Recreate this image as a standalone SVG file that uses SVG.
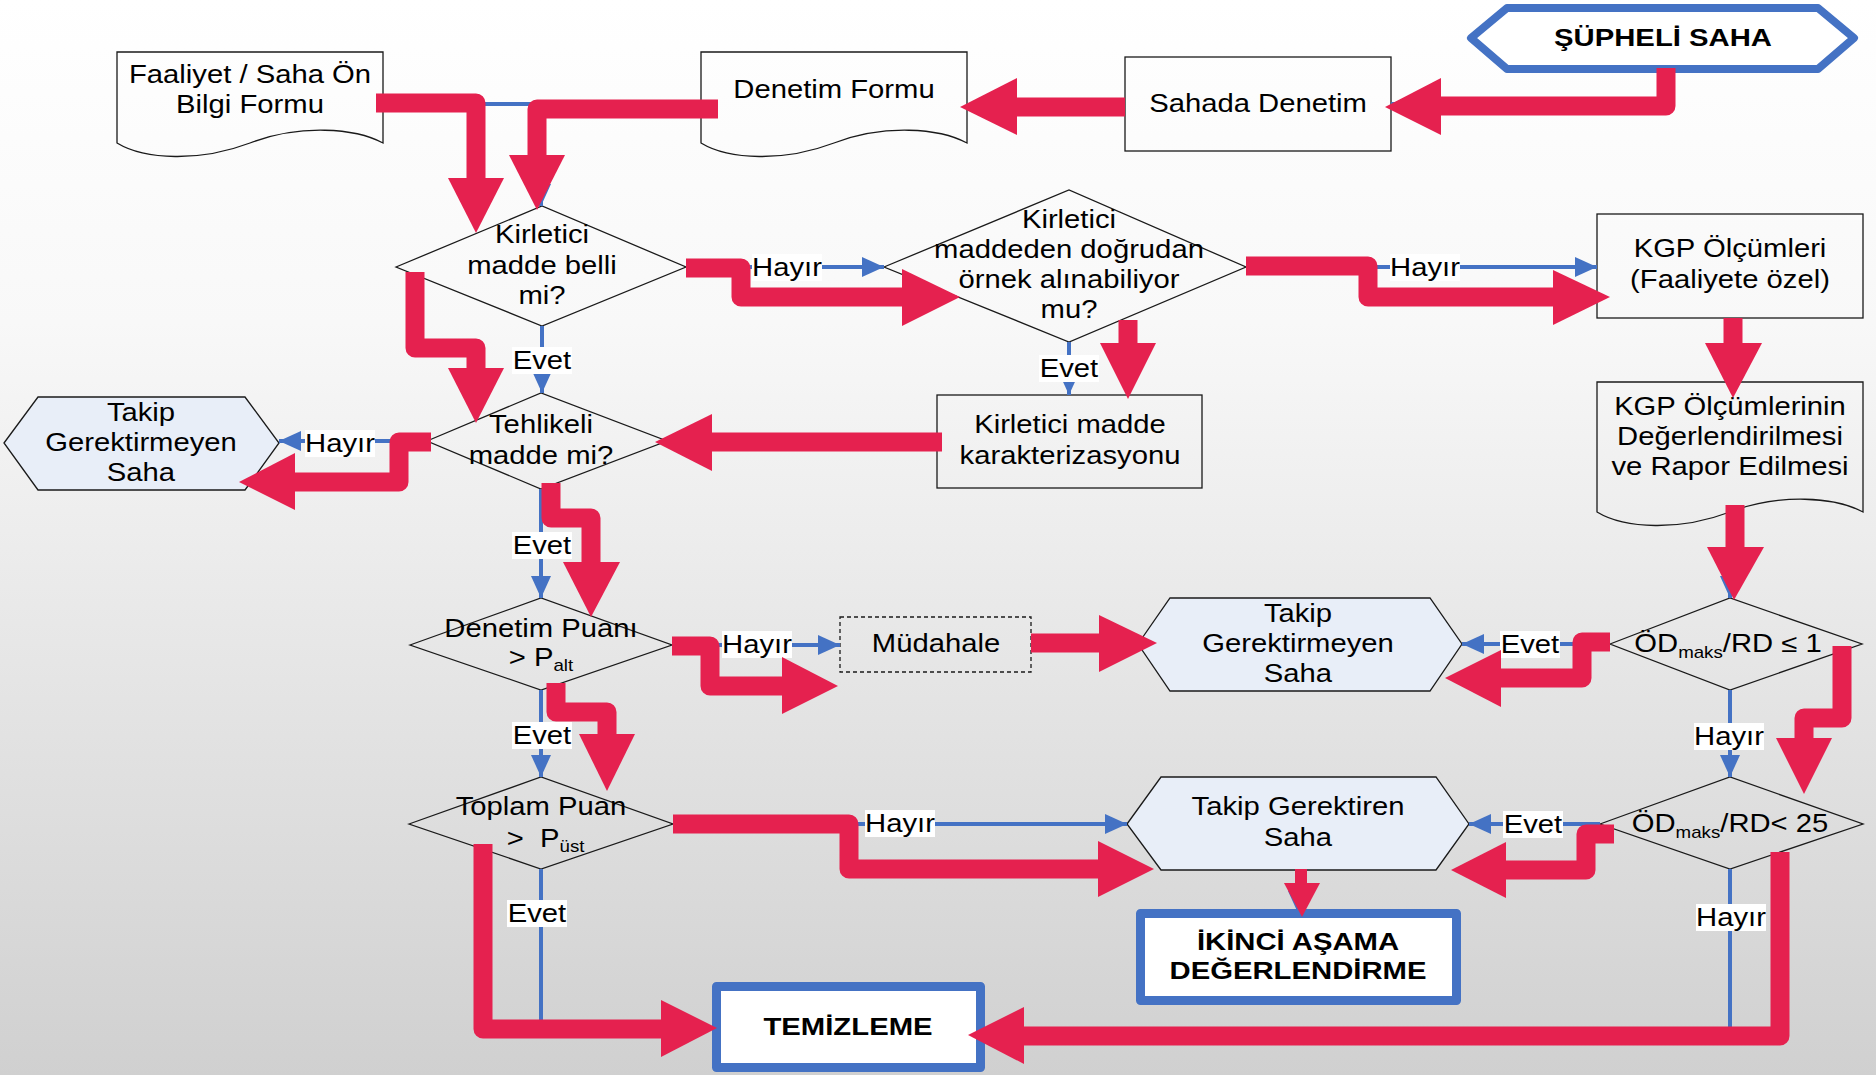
<svg xmlns="http://www.w3.org/2000/svg" width="1876" height="1075" viewBox="0 0 1876 1075">
<defs>
<linearGradient id="bg" x1="0" y1="0" x2="0" y2="1">
<stop offset="0" stop-color="#ffffff"/>
<stop offset="0.3" stop-color="#f8f8f8"/>
<stop offset="1" stop-color="#d0d0d0"/>
</linearGradient>
<marker id="ba" markerUnits="userSpaceOnUse" viewBox="0 0 22 20" refX="22" refY="10" markerWidth="22" markerHeight="20" orient="auto">
<path d="M0,0 L22,10 L0,20 Z" fill="#4472c4"/>
</marker>
<style>
.n{fill:none;stroke:#1a1a1a;stroke-width:1.3}
.hx{fill:#e8eef8;stroke:#1a1a1a;stroke-width:1.3}
.bx{fill:#ffffff;stroke:#4472c4;stroke-width:9;stroke-linejoin:round}
.t{font-family:"Liberation Sans",Arial,sans-serif;font-size:25px;text-anchor:middle;fill:#000}
.b{font-weight:bold;font-size:24px}
.s{font-size:16px}
.bl{fill:none;stroke:#4472c4;stroke-width:4;marker-end:url(#ba)}
.bn{fill:none;stroke:#4472c4;stroke-width:4}
.lb{fill:#ffffff}
.r{fill:none;stroke:#e5214f;stroke-width:19;stroke-linejoin:round}
.rh{fill:#e5214f}
</style>
</defs>
<rect x="0" y="0" width="1876" height="1075" fill="url(#bg)"/>

<g id="nodes">
<g id="faaliyet">
<path class="n" d="M117,52 H383 V143 C355,128 300,124 250,143 C200,162 145,160 117,143 Z"/>
<text class="t" transform="translate(250,0) scale(1.17,1)"><tspan x="0" y="83">Faaliyet / Saha Ön</tspan><tspan x="0" y="113">Bilgi Formu</tspan></text>
</g>
<g id="denetim-formu">
<path class="n" d="M701,52 H967 V143 C939,128 884,124 834,143 C784,162 729,160 701,143 Z"/>
<text class="t" transform="translate(834,0) scale(1.17,1)"><tspan x="0" y="98">Denetim Formu</tspan></text>
</g>
<g id="sahada-denetim">
<rect class="n" x="1125" y="57" width="266" height="94"/>
<text class="t" transform="translate(1258,0) scale(1.17,1)"><tspan x="0" y="112">Sahada Denetim</tspan></text>
</g>
<g id="supheli-saha">
<polygon points="1471,38 1507,8 1818,8 1854,38 1818,69 1507,69" fill="#ffffff" stroke="#4472c4" stroke-width="8" stroke-linejoin="round"/>
<text class="t b" transform="translate(1663,0) scale(1.22,1)"><tspan x="0" y="46">ŞÜPHELİ SAHA</tspan></text>
</g>
<g id="kirletici-belli">
<polygon class="n" points="396,267 542,206 686,267 542,326"/>
<text class="t" transform="translate(542,0) scale(1.17,1)"><tspan x="0" y="243">Kirletici</tspan><tspan x="0" y="274">madde belli</tspan><tspan x="0" y="304">mi?</tspan></text>
</g>
<g id="ornek-alinabiliyor">
<polygon class="n" points="884,267 1069,190 1246,267 1069,342"/>
<text class="t" transform="translate(1069,0) scale(1.17,1)"><tspan x="0" y="228">Kirletici</tspan><tspan x="0" y="258">maddeden doğrudan</tspan><tspan x="0" y="288">örnek alınabiliyor</tspan><tspan x="0" y="318">mu?</tspan></text>
</g>
<g id="kgp-olcumleri">
<rect class="n" x="1597" y="214" width="266" height="104"/>
<text class="t" transform="translate(1730,0) scale(1.17,1)"><tspan x="0" y="257">KGP Ölçümleri</tspan><tspan x="0" y="288">(Faaliyete özel)</tspan></text>
</g>
<g id="takip-gerektirmeyen-1">
<polygon class="hx" points="4,443 38,397 245,397 279,443 245,490 38,490"/>
<text class="t" transform="translate(141,0) scale(1.17,1)"><tspan x="0" y="421">Takip</tspan><tspan x="0" y="451">Gerektirmeyen</tspan><tspan x="0" y="481">Saha</tspan></text>
</g>
<g id="tehlikeli">
<polygon class="n" points="427,441 541,393 667,441 541,489"/>
<text class="t" transform="translate(541,0) scale(1.17,1)"><tspan x="0" y="433">Tehlikeli</tspan><tspan x="0" y="464">madde mi?</tspan></text>
</g>
<g id="karakterizasyon">
<rect class="n" x="937" y="395" width="265" height="93"/>
<text class="t" transform="translate(1070,0) scale(1.17,1)"><tspan x="0" y="433">Kirletici madde</tspan><tspan x="0" y="464">karakterizasyonu</tspan></text>
</g>
<g id="kgp-degerlendirme">
<path class="n" d="M1597,382 H1863 V512 C1835,497 1780,493 1730,512 C1680,531 1625,529 1597,512 Z"/>
<text class="t" transform="translate(1730,0) scale(1.17,1)"><tspan x="0" y="415">KGP Ölçümlerinin</tspan><tspan x="0" y="445">Değerlendirilmesi</tspan><tspan x="0" y="475">ve Rapor Edilmesi</tspan></text>
</g>
<g id="denetim-puani">
<polygon class="n" points="410,645 541,598 672,645 541,690"/>
<text class="t" transform="translate(541,0) scale(1.17,1)"><tspan x="0" y="637">Denetim Puanı</tspan><tspan x="0" y="666">&gt; P<tspan class="s" dy="5">alt</tspan></tspan></text>
</g>
<g id="mudahale">
<rect x="840" y="617" width="191" height="55" fill="none" stroke="#1a1a1a" stroke-width="1.3" stroke-dasharray="4,3"/>
<text class="t" transform="translate(936,0) scale(1.17,1)"><tspan x="0" y="652">Müdahale</tspan></text>
</g>
<g id="takip-gerektirmeyen-2">
<polygon class="hx" points="1138,644 1170,598 1430,598 1462,644 1430,691 1170,691"/>
<text class="t" transform="translate(1298,0) scale(1.17,1)"><tspan x="0" y="622">Takip</tspan><tspan x="0" y="652">Gerektirmeyen</tspan><tspan x="0" y="682">Saha</tspan></text>
</g>
<g id="od-rd-1">
<polygon class="n" points="1610,644 1730,598 1862,644 1730,690"/>
<text class="t" transform="translate(1728,0) scale(1.17,1)"><tspan x="0" y="652">ÖD<tspan class="s" dy="6">maks</tspan><tspan dy="-6">/RD ≤ 1</tspan></tspan></text>
</g>
<g id="toplam-puan">
<polygon class="n" points="409,824 541,777 673,824 541,869"/>
<text class="t" transform="translate(541,0) scale(1.17,1)"><tspan x="0" y="815">Toplam Puan</tspan><tspan x="4" y="847">&gt;&#160; P<tspan class="s" dy="5">üst</tspan></tspan></text>
</g>
<g id="takip-gerektiren">
<polygon class="hx" points="1127,824 1161,777 1436,777 1469,824 1436,870 1161,870"/>
<text class="t" transform="translate(1298,0) scale(1.17,1)"><tspan x="0" y="815">Takip Gerektiren</tspan><tspan x="0" y="846">Saha</tspan></text>
</g>
<g id="od-rd-25">
<polygon class="n" points="1600,824 1730,777 1863,824 1730,869"/>
<text class="t" transform="translate(1730,0) scale(1.17,1)"><tspan x="0" y="832">ÖD<tspan class="s" dy="6">maks</tspan><tspan dy="-6">/RD&lt; 25</tspan></tspan></text>
</g>
<g id="ikinci-asama">
<rect class="bx" x="1140.5" y="913.5" width="316" height="87"/>
<text class="t b" transform="translate(1298,0) scale(1.22,1)"><tspan x="0" y="950">İKİNCİ AŞAMA</tspan><tspan x="0" y="979">DEĞERLENDİRME</tspan></text>
</g>
<g id="temizleme">
<rect class="bx" x="716.5" y="986.5" width="264" height="81"/>
<text class="t b" transform="translate(848,0) scale(1.22,1)"><tspan x="0" y="1035">TEMİZLEME</tspan></text>
</g>
</g>

<g id="connectors">
<g id="blue-connectors">
<path class="bl" d="M383,104 H541 V206"/>
<path class="bn" d="M701,104 H541"/>
<path class="bl" d="M1125,107 H967"/>
<path class="bl" d="M1663,72 V104 H1391"/>
<path class="bl" d="M686,267 H884"/>
<path class="bl" d="M542,326 V393"/>
<path class="bl" d="M1246,267 H1597"/>
<path class="bl" d="M1069,342 V395"/>
<path class="bl" d="M937,442 H667"/>
<path class="bl" d="M1730,318 V382"/>
<path class="bl" d="M1730,512 V598"/>
<path class="bl" d="M427,441 H279"/>
<path class="bl" d="M541,489 V598"/>
<path class="bl" d="M672,645 H840"/>
<path class="bl" d="M1031,644 H1138"/>
<path class="bl" d="M541,690 V777"/>
<path class="bl" d="M1610,644 H1462"/>
<path class="bl" d="M1730,690 V777"/>
<path class="bl" d="M673,824 H1127"/>
<path class="bl" d="M1600,824 H1469"/>
<path class="bl" d="M1298,870 V913"/>
<path class="bl" d="M541,869 V1028 H712"/>
<path class="bl" d="M1730,869 V1035 H985"/>
</g>
<g id="labels">
<rect class="lb" x="512" y="347" width="60" height="27"/>
<text class="t" transform="translate(542,0) scale(1.17,1)"><tspan x="0" y="369">Evet</tspan></text>
<rect class="lb" x="752" y="254" width="70" height="27"/>
<text class="t" transform="translate(787,0) scale(1.17,1)"><tspan x="0" y="276">Hayır</tspan></text>
<rect class="lb" x="1390" y="254" width="70" height="27"/>
<text class="t" transform="translate(1425,0) scale(1.17,1)"><tspan x="0" y="276">Hayır</tspan></text>
<rect class="lb" x="1039" y="355" width="60" height="27"/>
<text class="t" transform="translate(1069,0) scale(1.17,1)"><tspan x="0" y="377">Evet</tspan></text>
<rect class="lb" x="305" y="430" width="70" height="27"/>
<text class="t" transform="translate(340,0) scale(1.17,1)"><tspan x="0" y="452">Hayır</tspan></text>
<rect class="lb" x="512" y="532" width="60" height="27"/>
<text class="t" transform="translate(542,0) scale(1.17,1)"><tspan x="0" y="554">Evet</tspan></text>
<rect class="lb" x="722" y="631" width="70" height="27"/>
<text class="t" transform="translate(757,0) scale(1.17,1)"><tspan x="0" y="653">Hayır</tspan></text>
<rect class="lb" x="512" y="722" width="60" height="27"/>
<text class="t" transform="translate(542,0) scale(1.17,1)"><tspan x="0" y="744">Evet</tspan></text>
<rect class="lb" x="1500" y="631" width="60" height="27"/>
<text class="t" transform="translate(1530,0) scale(1.17,1)"><tspan x="0" y="653">Evet</tspan></text>
<rect class="lb" x="1694" y="723" width="70" height="27"/>
<text class="t" transform="translate(1729,0) scale(1.17,1)"><tspan x="0" y="745">Hayır</tspan></text>
<rect class="lb" x="865" y="810" width="70" height="27"/>
<text class="t" transform="translate(900,0) scale(1.17,1)"><tspan x="0" y="832">Hayır</tspan></text>
<rect class="lb" x="1503" y="811" width="60" height="27"/>
<text class="t" transform="translate(1533,0) scale(1.17,1)"><tspan x="0" y="833">Evet</tspan></text>
<rect class="lb" x="507" y="900" width="60" height="27"/>
<text class="t" transform="translate(537,0) scale(1.17,1)"><tspan x="0" y="922">Evet</tspan></text>
<rect class="lb" x="1696" y="904" width="70" height="27"/>
<text class="t" transform="translate(1731,0) scale(1.17,1)"><tspan x="0" y="926">Hayır</tspan></text>
</g>
<g id="red-flow">
<path class="r" d="M376,103 H476 V180"/><polygon class="rh" points="448,178 504,178 476,233"/>
<path class="r" d="M718,109 H537 V157"/><polygon class="rh" points="509,155 565,155 537,210"/>
<path class="r" d="M1125,107 H1015"/><polygon class="rh" points="1017,78 1017,135 960,107"/>
<path class="r" d="M1666,68 V106 H1439"/><polygon class="rh" points="1441,78 1441,135 1385,107"/>
<path class="r" d="M686,268 H741 V297 H904"/><polygon class="rh" points="902,269 902,326 960,297"/>
<path class="r" d="M1246,266 H1368 V297 H1555"/><polygon class="rh" points="1553,270 1553,325 1610,297"/>
<path class="r" d="M1128,320 V345"/><polygon class="rh" points="1100,343 1156,343 1128,399"/>
<path class="r" d="M1733,318 V345"/><polygon class="rh" points="1705,343 1762,343 1733,398"/>
<path class="r" d="M1735,505 V549"/><polygon class="rh" points="1707,547 1764,547 1734,600"/>
<path class="r" d="M415,272 V348 H476 V370"/><polygon class="rh" points="448,368 504,368 476,423"/>
<path class="r" d="M942,442 H710"/><polygon class="rh" points="712,414 712,471 655,442"/>
<path class="r" d="M431,442 H399 V482 H293"/><polygon class="rh" points="295,453 295,510 239,482"/>
<path class="r" d="M551,483 V518 H591 V564"/><polygon class="rh" points="563,562 620,562 591,617"/>
<path class="r" d="M672,646 H710 V686 H784"/><polygon class="rh" points="782,657 782,714 838,686"/>
<path class="r" d="M1031,643 H1101"/><polygon class="rh" points="1099,615 1099,672 1157,643"/>
<path class="r" d="M1610,642 H1582 V678 H1499"/><polygon class="rh" points="1501,650 1501,707 1445,678"/>
<path class="r" d="M1842,646 V718 H1804 V740"/><polygon class="rh" points="1776,738 1832,738 1804,794"/>
<path class="r" d="M556,683 V712 H607 V736"/><polygon class="rh" points="579,734 635,734 607,791"/>
<path class="r" d="M673,824 H849 V869 H1100"/><polygon class="rh" points="1098,841 1098,897 1154,869"/>
<path class="r" d="M1614,834 H1586 V870 H1504"/><polygon class="rh" points="1506,842 1506,898 1451,870"/>
<path class="r" d="M1301,869 V885" style="stroke-width:12"/><polygon class="rh" points="1284,883 1320,883 1302,917"/>
<path class="r" d="M483,844 V1029 H663"/><polygon class="rh" points="661,1000 661,1057 717,1028"/>
<path class="r" d="M1780,852 V1036 H1022"/><polygon class="rh" points="1024,1007 1024,1064 968,1035"/>
</g>
</g>
</svg>
